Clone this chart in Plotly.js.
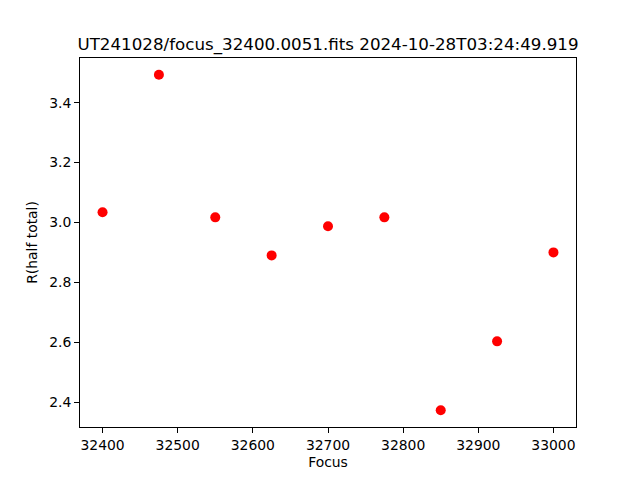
<!DOCTYPE html>
<html>
<head>
<meta charset="utf-8">
<script src="https://cdn.plot.ly/plotly-3.0.1.min.js"></script>
<style>html,body{margin:0;padding:0;background:#fff;}#chart{width:640px;height:480px;}</style>
</head>
<body>
<div id="chart"></div>
<script>
const focus = [32400, 32475, 32550, 32625, 32700, 32775, 32850, 32925, 33000];
const rHalfTotal = [3.034, 3.493, 3.017, 2.890, 2.987, 3.017, 2.373, 2.603, 2.900];
const xTicks = [32400, 32500, 32600, 32700, 32800, 32900, 33000];
const yTicks = [2.4, 2.6, 2.8, 3.0, 3.2, 3.4];

const font = {family: 'DejaVu Sans', color: '#000'};
const trace = {
  x: focus, y: rHalfTotal, type: 'scatter', mode: 'markers',
  marker: {color: '#ff0000', size: 10}
};
const axisCommon = {
  showgrid: false, zeroline: false, showline: true, linecolor: '#000', linewidth: 1,
  mirror: true, ticks: 'outside', ticklen: 5, tickwidth: 1, tickcolor: '#000',
  tickfont: {family: 'DejaVu Sans', size: 13.9, color: '#000'}
};
const layout = {
  width: 640, height: 480,
  margin: {l: 80, r: 64, t: 58, b: 53},
  paper_bgcolor: '#fff', plot_bgcolor: '#fff',
  font: font,
  showlegend: false,
  title: {text: 'UT241028/focus_32400.0051.fits 2024-10-28T03:24:49.919',
          font: {family: 'DejaVu Sans', size: 16.7, color: '#000'},
          x: 0.5, xanchor: 'center', y: 1 - 44/480, yanchor: 'middle', xref: 'paper'},
  xaxis: Object.assign({}, axisCommon, {
    range: [32370, 33030], tickvals: xTicks, ticktext: xTicks.map(String),
    title: {text: 'Focus', font: {family: 'DejaVu Sans', size: 13.9, color: '#000'}, standoff: 5}
  }),
  yaxis: Object.assign({}, axisCommon, {
    range: [2.317, 3.549], tickvals: yTicks, ticktext: yTicks.map(v => v.toFixed(1)),
    title: {text: 'R(half total)', font: {family: 'DejaVu Sans', size: 13.9, color: '#000'}, standoff: 8}
  })
};
Plotly.newPlot('chart', [trace], layout, {staticPlot: true, displayModeBar: false});
</script>
</body>
</html>
